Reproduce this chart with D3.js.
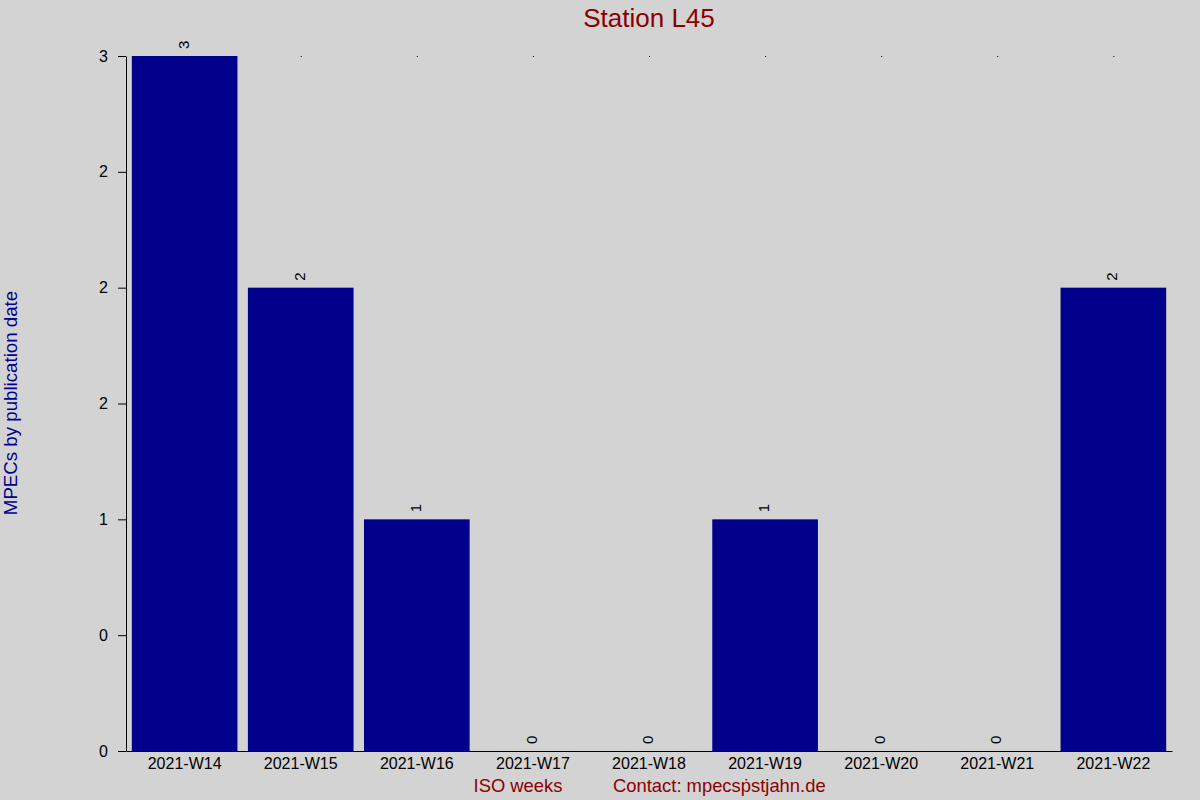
<!DOCTYPE html>
<head>
<meta charset="utf-8">
<title>Station L45</title>
<script src="https://cdn.jsdelivr.net/npm/d3@7"></script>
<style>
    body { margin: 0; background: #d3d3d3; }
    text { font-family: "Liberation Sans", Arial, sans-serif; }
</style>
</head>
<body>
<script>
    // data
    var weeks = ["2021-W14", "2021-W15", "2021-W16", "2021-W17", "2021-W18",
                 "2021-W19", "2021-W20", "2021-W21", "2021-W22"];
    var counts = [3, 2, 1, 0, 0, 1, 0, 0, 2];
    var yTicks = [0, 0.5, 1, 1.5, 2, 2.5, 3];
    var yTickLabels = ["0", "0", "1", "2", "2", "2", "3"];

    var width = 1200, height = 800;
    var margin = {top: 56, right: 28, bottom: 49, left: 126};

    var svg = d3.select("body")
        .append("svg")
        .attr("width", width)
        .attr("height", height)
        .style("display", "block");

    svg.append("rect")
        .attr("width", width)
        .attr("height", height)
        .attr("fill", "#d3d3d3");

    var x = d3.scaleBand()
        .domain(weeks)
        .range([margin.left, width - margin.right])
        .paddingInner(0.09)
        .paddingOuter(0.05);

    var y = d3.scaleLinear()
        .domain([0, 3])
        .range([height - margin.bottom, margin.top]);

    // bars
    svg.selectAll("rect.bar")
        .data(weeks)
        .enter()
        .append("rect")
        .attr("class", "bar")
        .attr("x", d => x(d))
        .attr("width", x.bandwidth())
        .attr("y", (d, i) => y(counts[i]))
        .attr("height", (d, i) => y(0) - y(counts[i]))
        .attr("fill", "#00008b");

    // tiny marks at the top of each column
    svg.selectAll("rect.dot")
        .data(weeks)
        .enter()
        .append("rect")
        .attr("class", "dot")
        .attr("x", d => x(d) + x.bandwidth() / 2)
        .attr("y", y(3))
        .attr("width", 1)
        .attr("height", 1)
        .attr("fill", "black");

    // value labels (rotated)
    svg.selectAll("text.val")
        .data(weeks)
        .enter()
        .append("text")
        .attr("class", "val")
        .attr("transform", (d, i) => "translate(" + (x(d) + x.bandwidth() / 2) + "," + (y(counts[i]) - 7) + ") rotate(-90)")
        .attr("dominant-baseline", "middle")
        .attr("text-anchor", "start")
        .style("font-size", "15px")
        .attr("fill", "black")
        .text((d, i) => counts[i]);

    // y axis
    var yAxis = d3.axisLeft(y)
        .tickValues(yTicks)
        .tickFormat((d, i) => yTickLabels[i])
        .tickSize(8)
        .tickSizeOuter(0)
        .tickPadding(10);

    svg.append("g")
        .attr("transform", "translate(" + margin.left + ",0)")
        .call(yAxis)
        .call(g => g.selectAll("text").style("font-size", "16px").attr("fill", "black").style("font-family", "'Liberation Sans', Arial, sans-serif"))
        .call(g => g.selectAll("line").attr("stroke", "black"))
        .call(g => g.select(".domain").attr("stroke", "black"));

    // x axis
    var xAxis = d3.axisBottom(x)
        .tickSize(0)
        .tickSizeOuter(0)
        .tickPadding(7);

    svg.append("g")
        .attr("transform", "translate(0," + y(0) + ")")
        .call(xAxis)
        .call(g => g.selectAll("text").style("font-size", "16px").attr("fill", "black").style("font-family", "'Liberation Sans', Arial, sans-serif"))
        .call(g => g.select(".domain").attr("stroke", "black"));

    svg.append("line")
        .attr("x1", margin.left - 8)
        .attr("x2", margin.left)
        .attr("y1", y(0) + 0.5)
        .attr("y2", y(0) + 0.5)
        .attr("stroke", "black");

    // title
    svg.append("text")
        .attr("x", 649)
        .attr("y", 27)
        .attr("text-anchor", "middle")
        .style("font-size", "26px")
        .attr("fill", "#8b0000")
        .text("Station L45");

    // y label
    svg.append("text")
        .attr("transform", "translate(17," + 403 + ") rotate(-90)")
        .attr("text-anchor", "middle")
        .style("font-size", "18.7px")
        .attr("fill", "#00008b")
        .text("MPECs by publication date");

    // x label and contact
    svg.append("text")
        .attr("x", 518)
        .attr("y", 792)
        .attr("text-anchor", "middle")
        .style("font-size", "18.4px")
        .attr("fill", "#8b0000")
        .text("ISO weeks");

    svg.append("text")
        .attr("x", 613)
        .attr("y", 792)
        .attr("text-anchor", "start")
        .style("font-size", "18.4px")
        .attr("fill", "#8b0000")
        .text("Contact: mpecs\u1E57stjahn.de");
</script>
</body>
</html>
